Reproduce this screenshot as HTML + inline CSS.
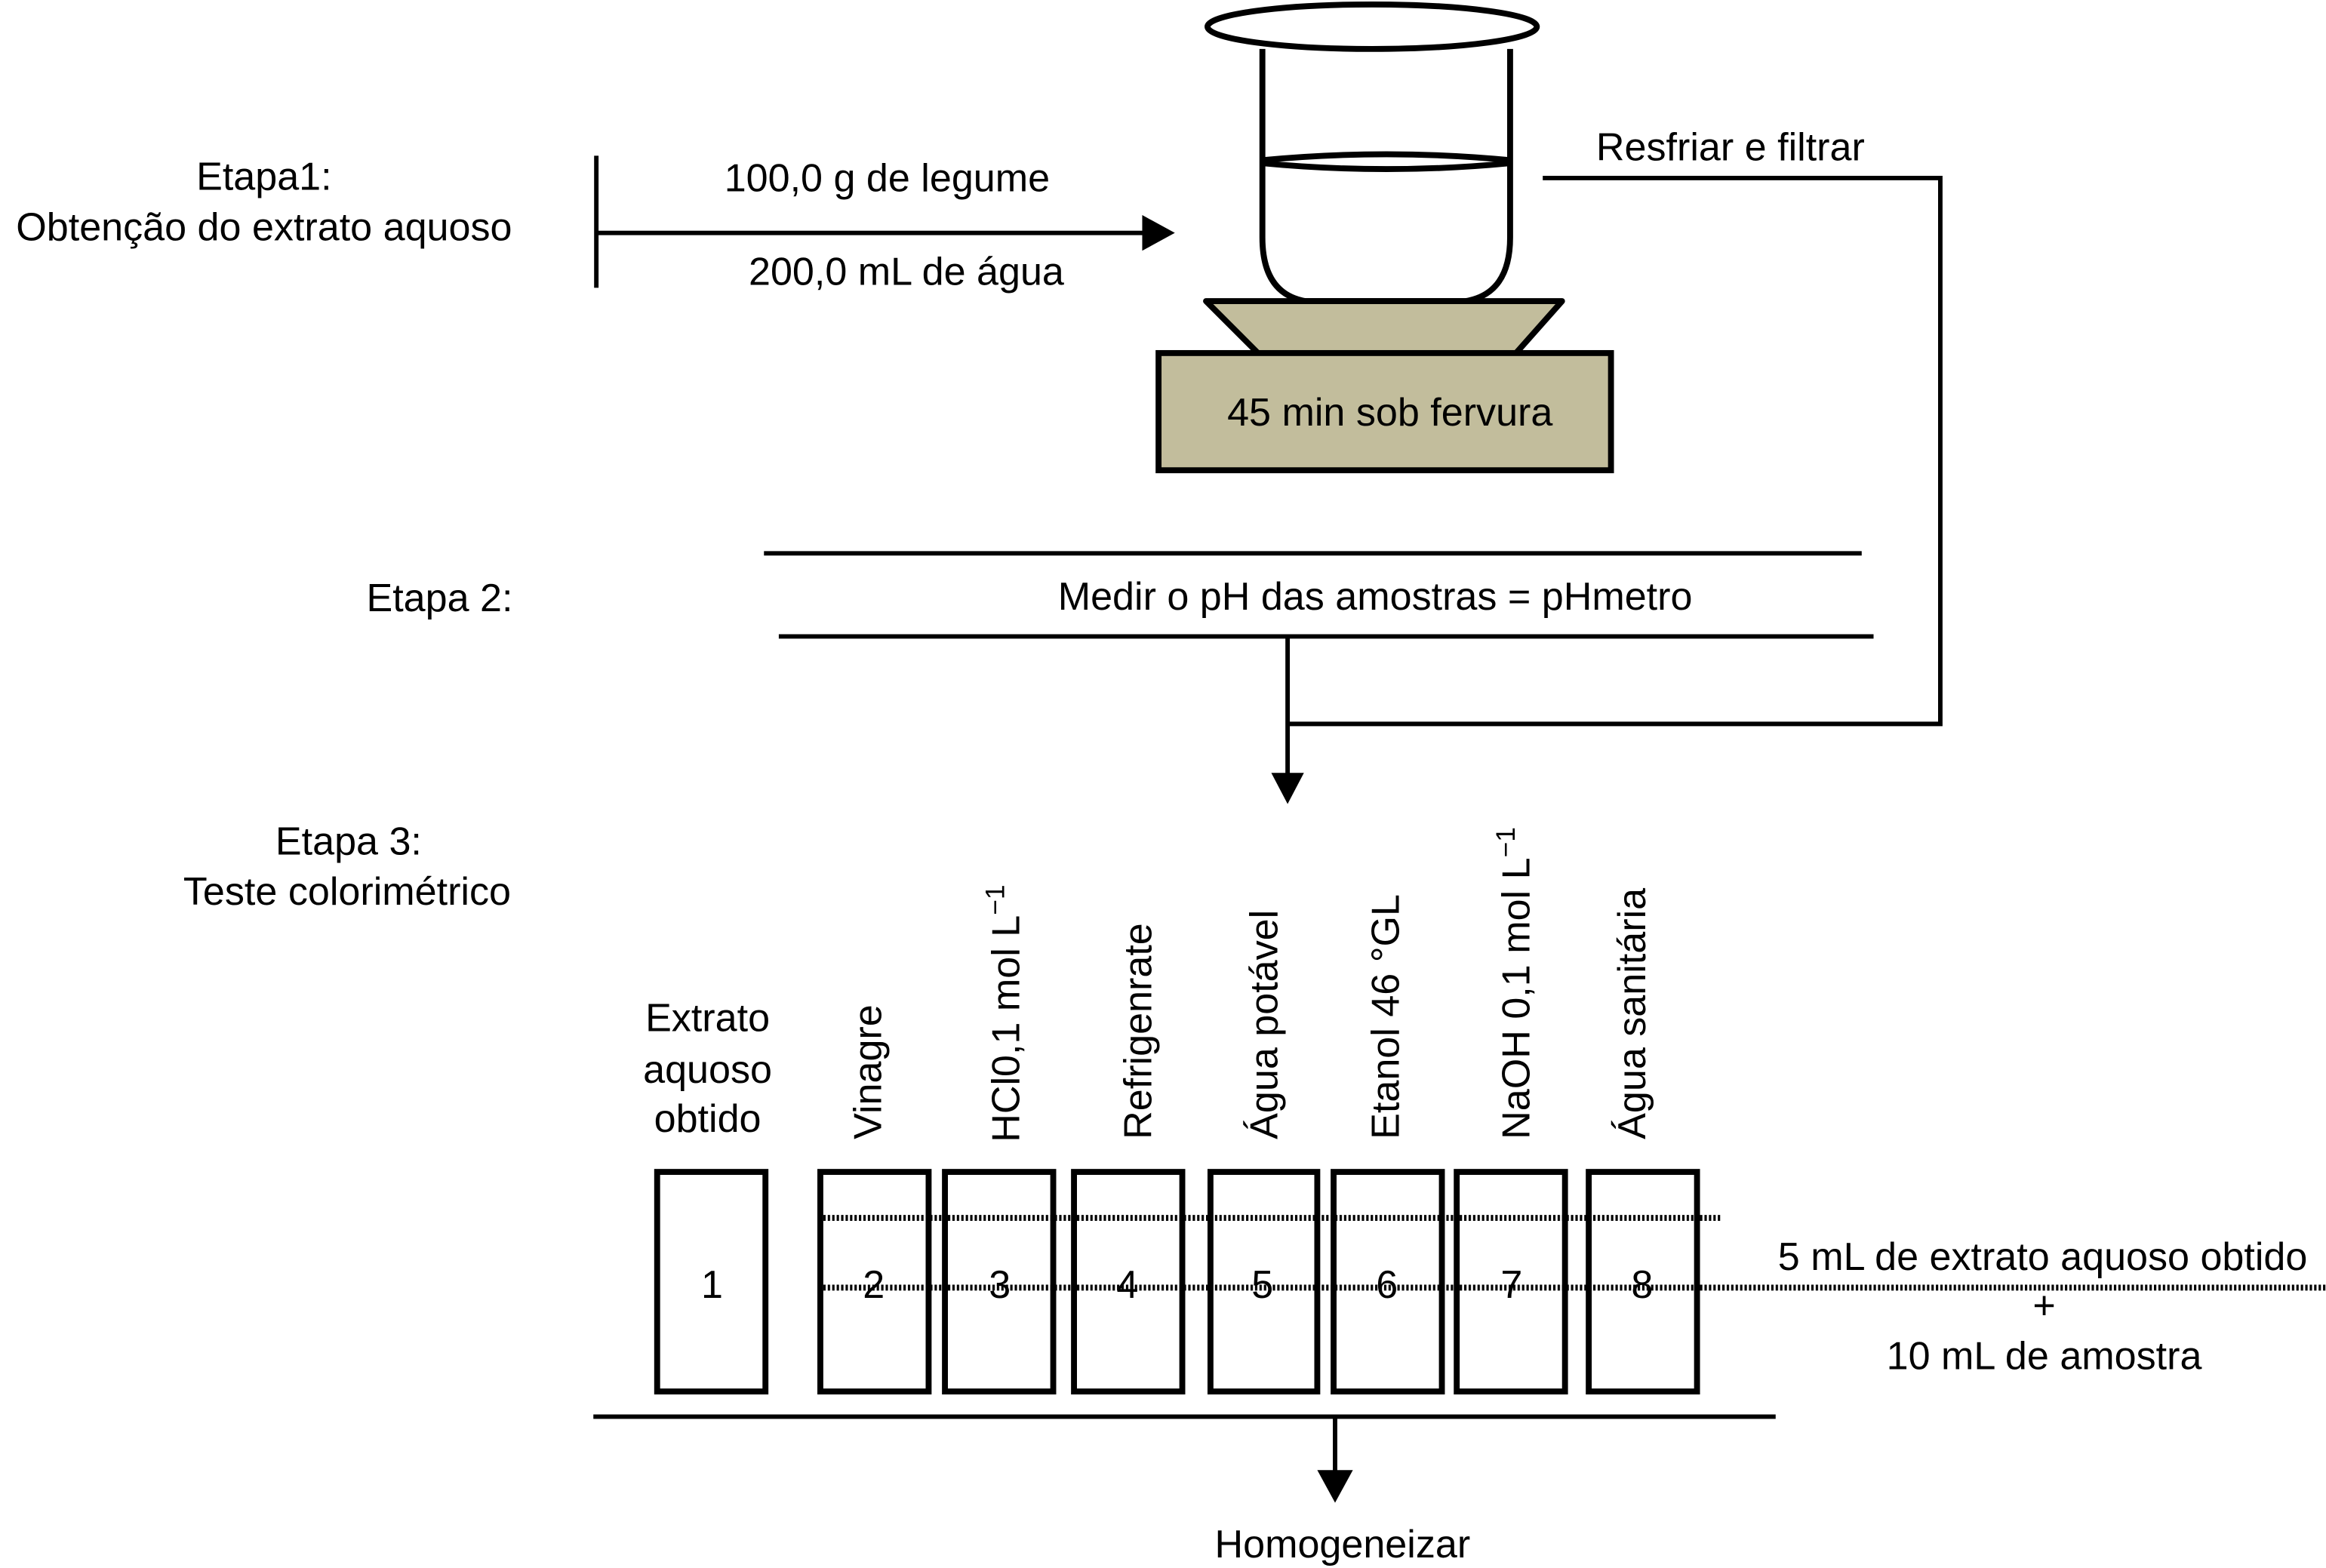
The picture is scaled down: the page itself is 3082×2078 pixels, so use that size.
<!DOCTYPE html>
<html><head><meta charset="utf-8"><style>
html,body{margin:0;padding:0;background:#fff;}
svg{display:block;}
text{font-family:"Liberation Sans",Arial,sans-serif;font-size:26.5px;fill:#000;}
</style></head><body>
<svg width="3082" height="2078" viewBox="0 0 1568 1057" preserveAspectRatio="none" xmlns="http://www.w3.org/2000/svg">
<defs>
<pattern id="d" width="3" height="10" patternUnits="userSpaceOnUse"><rect width="1.6" height="10" fill="#000"/></pattern>
</defs>
<!-- Etapa 1 -->
<text x="178" y="128" text-anchor="middle">Etapa1:</text>
<text x="178" y="162" text-anchor="middle">Obtenção do extrato aquoso</text>
<line x1="402" y1="105" x2="402" y2="194" stroke="#000" stroke-width="3"/>
<line x1="402" y1="157" x2="775" y2="157" stroke="#000" stroke-width="3"/>
<polygon points="770,145 792,157 770,169" fill="#000"/>
<text x="598" y="129" text-anchor="middle">100,0 g de legume</text>
<text x="611" y="192" text-anchor="middle">200,0 mL de água</text>
<!-- beaker -->
<ellipse cx="925" cy="18" rx="111" ry="15" fill="#fff" stroke="#000" stroke-width="4"/>
<path d="M851,33 L851,160 Q851,198 880,203 L988,203 Q1018,198 1018,160 L1018,33" fill="none" stroke="#000" stroke-width="4"/>
<path d="M851,108 Q935,100 1018,108" fill="none" stroke="#000" stroke-width="4"/>
<path d="M851,110 Q935,118 1018,110" fill="none" stroke="#000" stroke-width="4"/>
<polygon points="813,203 1053,203 1022,238 848,238" fill="#c2bd9c" stroke="#000" stroke-width="4" stroke-linejoin="round"/>
<rect x="781" y="238" width="305" height="79" fill="#c2bd9c" stroke="#000" stroke-width="4"/>
<text x="937" y="287" text-anchor="middle">45 min sob fervura</text>
<!-- right loop -->
<text x="1076" y="108">Resfriar e filtrar</text>
<polyline points="1040,120 1308,120 1308,488 868,488" fill="none" stroke="#000" stroke-width="3"/>
<!-- Etapa 2 -->
<text x="247" y="412">Etapa 2:</text>
<line x1="515" y1="373" x2="1255" y2="373" stroke="#000" stroke-width="3"/>
<line x1="525" y1="429" x2="1263" y2="429" stroke="#000" stroke-width="3"/>
<text x="927" y="411" text-anchor="middle">Medir o pH das amostras = pHmetro</text>
<line x1="868" y1="429" x2="868" y2="525" stroke="#000" stroke-width="3"/>
<polygon points="857,521 868,542 879,521" fill="#000"/>
<!-- Etapa 3 -->
<text x="235" y="576" text-anchor="middle">Etapa 3:</text>
<text x="234" y="610" text-anchor="middle">Teste colorimétrico</text>
<text x="477" y="695" text-anchor="middle">Extrato</text>
<text x="477" y="730" text-anchor="middle">aquoso</text>
<text x="477" y="763" text-anchor="middle">obtido</text>
<!-- rotated labels -->
<text transform="translate(594,768) rotate(-90)">Vinagre</text>
<text transform="translate(687,770) rotate(-90)">HCl0,1 mol L<tspan dy="-10" font-size="18">−1</tspan></text>
<text transform="translate(776,768) rotate(-90)">Refrigenrate</text>
<text transform="translate(861,768) rotate(-90)">Água potável</text>
<text transform="translate(943,768) rotate(-90)">Etanol 46 °GL</text>
<text transform="translate(1031,768) rotate(-90)">NaOH 0,1 mol L<tspan dy="-10" font-size="18">−1</tspan></text>
<text transform="translate(1109,768) rotate(-90)">Água sanitária</text>
<!-- tubes -->
<g fill="#fff" stroke="#000" stroke-width="4">
<rect x="443" y="790" width="73" height="148"/>
<rect x="553" y="790" width="73" height="148"/>
<rect x="637" y="790" width="73" height="148"/>
<rect x="724" y="790" width="73" height="148"/>
<rect x="816" y="790" width="72" height="148"/>
<rect x="899" y="790" width="73" height="148"/>
<rect x="982" y="790" width="73" height="148"/>
<rect x="1071" y="790" width="73" height="148"/>
</g>
<rect x="552" y="819" width="608" height="4" fill="url(#d)"/>
<rect x="552" y="866" width="1016" height="4" fill="url(#d)"/>
<g text-anchor="middle">
<text x="480" y="875">1</text>
<text x="589" y="875">2</text>
<text x="674" y="875">3</text>
<text x="760" y="875">4</text>
<text x="851" y="875">5</text>
<text x="935" y="875">6</text>
<text x="1019" y="875">7</text>
<text x="1107" y="875">8</text>
</g>
<text x="1377" y="856" text-anchor="middle">5 mL de extrato aquoso obtido</text>
<text x="1378" y="889" text-anchor="middle">+</text>
<text x="1378" y="923" text-anchor="middle">10 mL de amostra</text>
<!-- bottom -->
<line x1="400" y1="955" x2="1197" y2="955" stroke="#000" stroke-width="3"/>
<line x1="900" y1="955" x2="900" y2="994" stroke="#000" stroke-width="3"/>
<polygon points="888,991 900,1013 912,991" fill="#000"/>
<text x="905" y="1050" text-anchor="middle">Homogeneizar</text>
</svg>
</body></html>
